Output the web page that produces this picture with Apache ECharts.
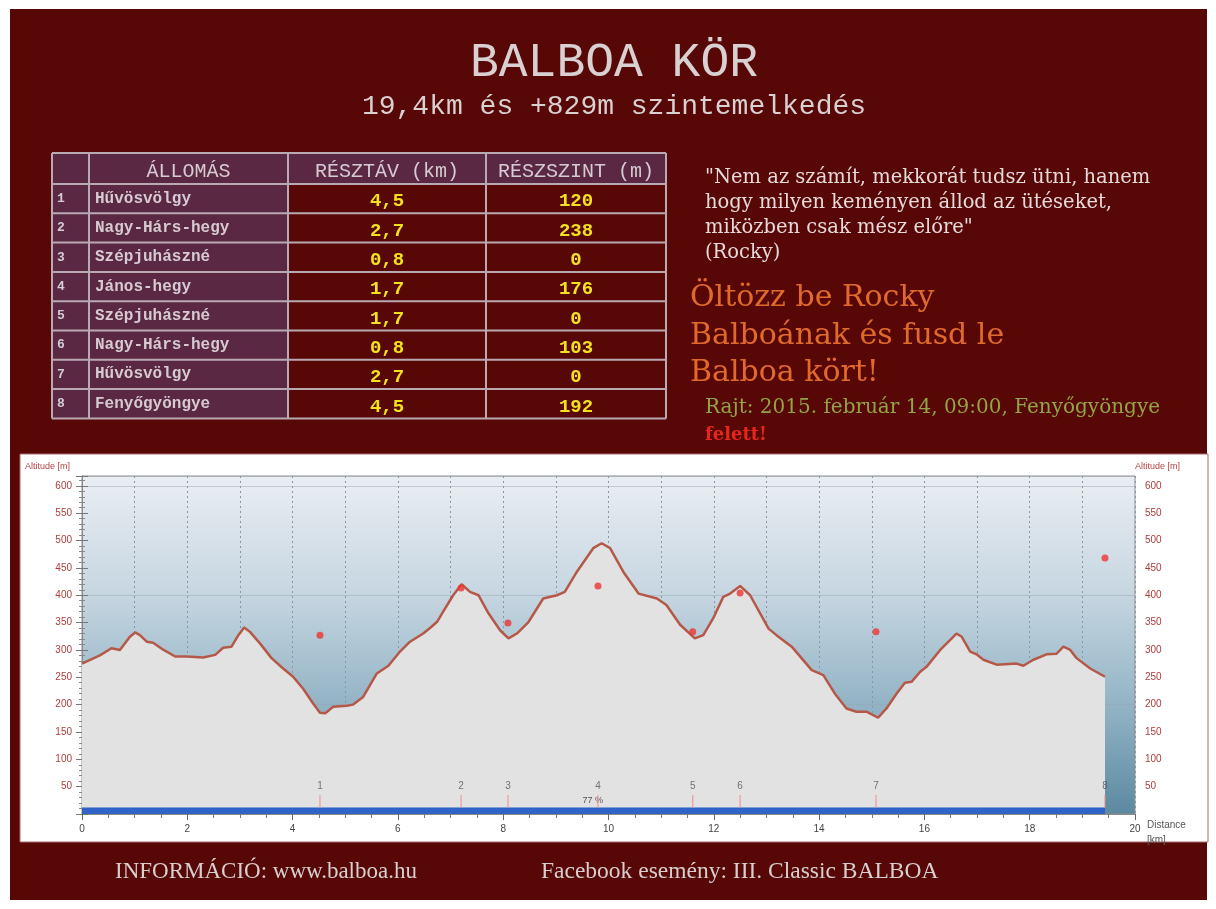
<!DOCTYPE html>
<html>
<head>
<meta charset="utf-8">
<title>Balboa kör</title>
<script src="https://cdn.jsdelivr.net/npm/echarts@6/dist/echarts.min.js"></script>
<style>
  html, body { margin: 0; padding: 0; background: #fff; }
  #main { width: 1216px; height: 909px; }
</style>
</head>
<body>
<div id="main"></div>
<script>
var stationNames = ['Hűvösvölgy', 'Nagy-Hárs-hegy', 'Szépjuhászné', 'János-hegy', 'Szépjuhászné', 'Nagy-Hárs-hegy', 'Hűvösvölgy', 'Fenyőgyöngye'];
var legDistance = ['4,5', '2,7', '0,8', '1,7', '1,7', '0,8', '2,7', '4,5'];
var legClimb = [120, 238, 0, 176, 0, 103, 0, 192];
var tableHeaders = ['', 'ÁLLOMÁS', 'RÉSZTÁV (km)', 'RÉSZSZINT (m)'];

// elevation profile: distance [km] / altitude [m]
var profileKm = [0, 0.34, 0.56, 0.72, 0.91, 1.01, 1.1, 1.23, 1.35, 1.55, 1.77, 1.99, 2.3, 2.53, 2.68, 2.84, 2.97, 3.08, 3.19, 3.38,
  3.6, 3.82, 4.01, 4.2, 4.39, 4.52, 4.62, 4.77, 5.03, 5.15, 5.34, 5.6, 5.82, 6.04, 6.23, 6.48, 6.61, 6.75, 6.86, 7.05,
  7.21, 7.37, 7.53, 7.72, 7.94, 8.1, 8.26, 8.48, 8.76, 9.02, 9.17, 9.4, 9.71, 9.87, 10.03, 10.28, 10.57, 10.92, 11.1, 11.36,
  11.64, 11.8, 11.99, 12.18, 12.31, 12.5, 12.69, 13.04, 13.19, 13.48, 13.86, 14.08, 14.3, 14.52, 14.71, 14.9, 15.12, 15.28, 15.47, 15.63,
  15.76, 15.92, 16.04, 16.3, 16.61, 16.71, 16.87, 16.99, 17.12, 17.37, 17.75, 17.88, 18.07, 18.32, 18.51, 18.64, 18.77, 18.89, 19.15, 19.43];
var profileAlt = [275, 290, 303, 300, 324, 332, 327, 315, 313, 300, 288, 288, 286, 291, 304, 306, 327, 341, 333, 312,
  285, 266, 251, 229, 202, 185, 184, 196, 198, 200, 214, 257, 271, 297, 315, 330, 340, 352, 370, 400,
  420, 406, 400, 367, 336, 321, 330, 351, 394, 400, 406, 443, 486, 495, 486, 443, 403, 394, 382, 346,
  321, 327, 358, 397, 403, 417, 400, 339, 327, 306, 263, 254, 220, 193, 187, 187, 176, 193, 220, 240,
  242, 260, 269, 300, 330, 324, 297, 292, 282, 273, 275, 271, 282, 292, 293, 306, 300, 285, 266, 251];

// waypoints
var waypointKm = [4.52, 7.2, 8.09, 9.8, 11.6, 12.5, 15.08, 19.43];
var waypointLabel = ['1', '2', '3', '4', '5', '6', '7', '8'];
var waypointAlt = [327, 413, 349, 417, 333, 404, 333, 468];
var surfaceKm = [0, 19.43];
var surfaceShare = '77 %';
var surfaceShareKm = 9.7;

var BG = '#580707';
var mono = '"Liberation Mono", "DejaVu Sans Mono", monospace';
var serif = '"DejaVu Serif", "Liberation Serif", serif';

var myChart = echarts.init(document.getElementById('main'));

// table drawn as graphic elements
var colX = [52, 89, 288, 486, 666];
var headTop = 153, headH = 31, rowH = 29.3;
var tableBottom = headTop + headH + rowH * stationNames.length;
var graphics = [];

graphics.push({ type: 'rect', z: -20, shape: { x: 10, y: 9, width: 1197, height: 891 }, style: { fill: BG } });
graphics.push({ type: 'rect', z: -19, shape: { x: 20, y: 454, width: 1188, height: 388 }, style: { fill: '#ffffff', stroke: '#a86a6a', lineWidth: 1 } });

// purple header and first two columns
graphics.push({ type: 'rect', z: -10, shape: { x: colX[0], y: headTop, width: colX[4] - colX[0], height: headH }, style: { fill: '#5b2843' } });
graphics.push({ type: 'rect', z: -10, shape: { x: colX[0], y: headTop, width: colX[2] - colX[0], height: tableBottom - headTop }, style: { fill: '#5b2843' } });

// grid lines
for (var c = 0; c < colX.length; c++) {
  graphics.push({ type: 'line', z: -5, shape: { x1: colX[c], y1: headTop, x2: colX[c], y2: tableBottom }, style: { stroke: '#b9aab2', lineWidth: 2 } });
}
for (var r = 0; r <= stationNames.length + 1; r++) {
  var yy = r === 0 ? headTop : headTop + headH + rowH * (r - 1);
  graphics.push({ type: 'line', z: -5, shape: { x1: colX[0], y1: yy, x2: colX[4], y2: yy }, style: { stroke: '#b9aab2', lineWidth: 2 } });
}
for (var h = 1; h < tableHeaders.length; h++) {
  graphics.push({ type: 'text', x: (colX[h] + colX[h + 1]) / 2, y: headTop + headH / 2 + 3,
    style: { text: tableHeaders[h], fill: '#d6cbd0', font: '20px ' + mono, textAlign: 'center', textVerticalAlign: 'middle' } });
}
for (var i = 0; i < stationNames.length; i++) {
  var cy = headTop + headH + rowH * i + rowH / 2;
  graphics.push({ type: 'text', x: colX[0] + 5, y: cy, style: { text: String(i + 1), fill: '#d6cbd0', font: 'bold 13px ' + mono, textVerticalAlign: 'middle' } });
  graphics.push({ type: 'text', x: colX[1] + 6, y: cy, style: { text: stationNames[i], fill: '#d6cbd0', font: 'bold 16px ' + mono, textVerticalAlign: 'middle' } });
  graphics.push({ type: 'text', x: (colX[2] + colX[3]) / 2, y: cy + 3, style: { text: legDistance[i], fill: '#f2e21e', font: 'bold 19px ' + mono, textAlign: 'center', textVerticalAlign: 'middle' } });
  graphics.push({ type: 'text', x: (colX[3] + colX[4]) / 2, y: cy + 3, style: { text: String(legClimb[i]), fill: '#f2e21e', font: 'bold 19px ' + mono, textAlign: 'center', textVerticalAlign: 'middle' } });
}

// titles and texts
function txt(x, y, s, fill, font, align) {
  graphics.push({ type: 'text', x: x, y: y, style: { text: s, fill: fill, font: font, textAlign: align || 'left', textVerticalAlign: 'middle' } });
}
txt(614, 63, 'BALBOA KÖR', '#d9d0d2', '48px ' + mono, 'center');
txt(614, 107, '19,4km és +829m szintemelkedés', '#d9d0d2', '28px ' + mono, 'center');

txt(705, 178, '"Nem az számít, mekkorát tudsz ütni, hanem', '#e6d9da', '19.5px ' + serif);
txt(705, 203, 'hogy milyen keményen állod az ütéseket,', '#e6d9da', '19.5px ' + serif);
txt(705, 228, 'miközben csak mész előre"', '#e6d9da', '19.5px ' + serif);
txt(705, 253, '(Rocky)', '#e6d9da', '19.5px ' + serif);
txt(690, 298, 'Öltözz be Rocky', '#e06a2c', '30px ' + serif);
txt(690, 336, 'Balboának és fusd le', '#e06a2c', '30px ' + serif);
txt(690, 373, 'Balboa kört!', '#e06a2c', '30px ' + serif);
txt(705, 408, 'Rajt: 2015. február 14, 09:00, Fenyőgyöngye', '#92a443', '20px ' + serif);
txt(705, 435, 'felett!', '#e3281a', 'bold 18px ' + serif);

txt(115, 872, 'INFORMÁCIÓ: www.balboa.hu', '#d8cfd0', '23px "Liberation Serif", serif');
txt(541, 872, 'Facebook esemény: III. Classic BALBOA', '#d8cfd0', '23.5px "Liberation Serif", serif');

txt(25, 467, 'Altitude [m]', '#b04444', '9px "Liberation Sans", sans-serif');
txt(1135, 467, 'Altitude [m]', '#b04444', '9px "Liberation Sans", sans-serif');

var profile = profileKm.map(function (k, j) { return [k, profileAlt[j]]; });
var dots = waypointKm.map(function (k, j) { return [k, waypointAlt[j]]; });
var ticks = waypointKm.map(function (k, j) { return { name: waypointLabel[j], value: [k, 23] }; });

function altLabel(v) { return (v > 0 && v % 50 === 0) ? String(v) : ''; }
var yBase = {
  type: 'value', min: 0, max: 618, interval: 50,
  axisLine: { show: true, lineStyle: { color: '#8a8a8a' } },
  axisTick: { show: true, length: 6, lineStyle: { color: '#777' } },
  minorTick: { show: true, splitNumber: 5, length: 3, lineStyle: { color: '#888' } },
  splitLine: { show: false },
  axisLabel: { formatter: altLabel, color: '#b03c3c', fontSize: 10, margin: 10 }
};

var option = {
  animation: false,
  textStyle: { fontFamily: '"Liberation Sans", Arial, sans-serif' },
  graphic: { elements: graphics },
  grid: {
    left: 82, right: 81, top: 476, bottom: 95, show: true,
    borderColor: '#8c8c8c', borderWidth: 1,
    backgroundColor: new echarts.graphic.LinearGradient(0, 0, 0, 1, [
      { offset: 0, color: '#eaeef3' },
      { offset: 0.35, color: '#c6d6e1' },
      { offset: 0.7, color: '#8fb1c3' },
      { offset: 1, color: '#5b899f' }
    ])
  },
  xAxis: [{
    type: 'value', min: 0, max: 20, interval: 2,
    name: 'Distance\n[km]', nameLocation: 'end', nameGap: 12,
    nameTextStyle: { color: '#555', fontSize: 10, align: 'left', verticalAlign: 'top', lineHeight: 15, padding: [4, 0, 0, 0] },
    axisLine: { show: true, onZero: false, lineStyle: { color: '#8a8a8a' } },
    axisTick: { show: true, length: 6, lineStyle: { color: '#666' } },
    minorTick: { show: true, splitNumber: 4, length: 4, lineStyle: { color: '#777' } },
    splitLine: { show: false },
    axisLabel: { color: '#444', fontSize: 10, margin: 10 }
  }, {
    type: 'value', min: 0, max: 20, interval: 1, show: true,
    axisLine: { show: false }, axisTick: { show: false }, axisLabel: { show: false },
    splitLine: { show: true, lineStyle: { color: '#8796a3', type: [2, 3], width: 1 } }
  }],
  yAxis: [
    Object.assign({}, yBase, { position: 'left' }),
    Object.assign({}, yBase, { position: 'right' }),
    {
      type: 'value', min: 0, max: 618, interval: 200, show: true, position: 'left',
      axisLine: { show: false }, axisTick: { show: false }, axisLabel: { show: false },
      splitLine: { show: true, lineStyle: { color: 'rgba(150,165,178,0.45)', width: 1 } }
    }
  ],
  series: [
    {
      name: 'Profil', type: 'line', data: profile, showSymbol: false, symbol: 'none',
      xAxisIndex: 0, yAxisIndex: 0, z: 3,
      lineStyle: { color: '#b65848', width: 2.5 },
      areaStyle: { color: '#e2e2e2', opacity: 1 }
    },
    {
      name: 'Burkolat', type: 'line', data: surfaceKm.map(function (k) { return [k, 11]; }),
      symbol: 'none', xAxisIndex: 0, yAxisIndex: 0, z: 4,
      lineStyle: { color: '#2f63c6', width: 1 },
      areaStyle: { color: '#2f63c6', opacity: 1 },
      markPoint: {
        symbol: 'circle', symbolSize: 0,
        label: { show: true, color: '#555', fontSize: 9, formatter: surfaceShare },
        data: [{ coord: [surfaceShareKm, 25] }]
      }
    },
    {
      name: 'Állomás', type: 'scatter', data: ticks, xAxisIndex: 0, yAxisIndex: 0, z: 5,
      symbol: 'rect', symbolSize: [1.2, 13],
      itemStyle: { color: '#ee8a8a' },
      label: { show: true, position: 'top', distance: 4, formatter: '{b}', color: '#555', fontSize: 10 }
    },
    {
      name: 'Pont', type: 'scatter', data: dots, xAxisIndex: 0, yAxisIndex: 0, z: 6,
      symbolSize: 7, itemStyle: { color: '#ec3434' }
    }
  ]
};
option && myChart.setOption(option);
</script>
</body>
</html>
